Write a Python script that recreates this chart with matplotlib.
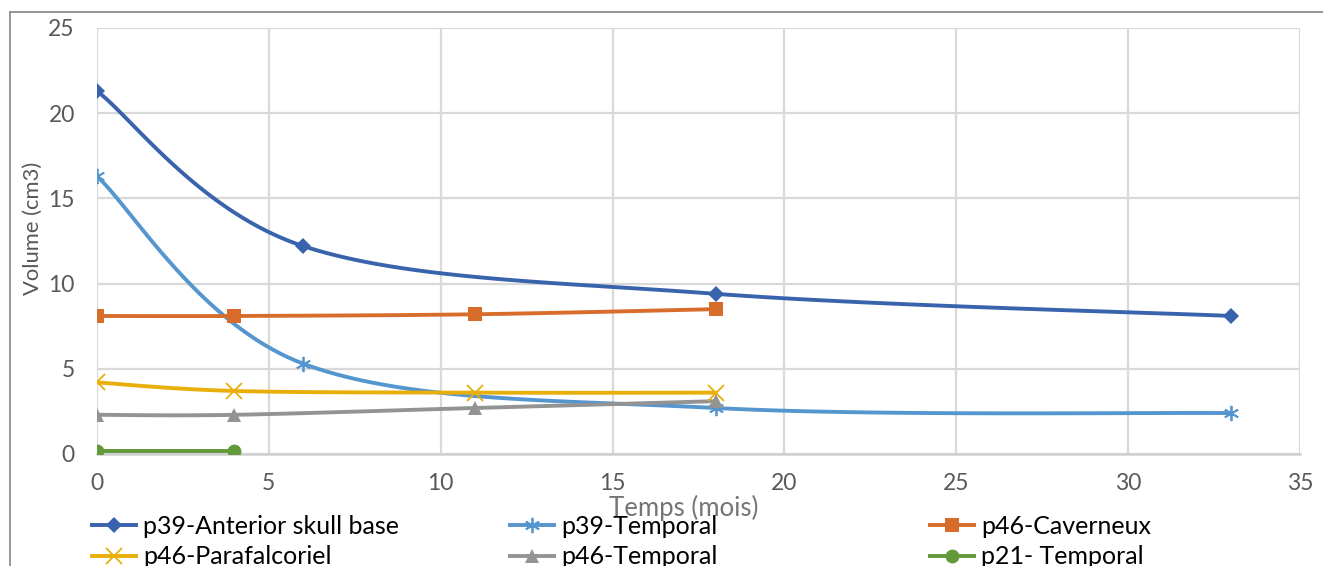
import numpy as np
import matplotlib
matplotlib.use("Agg")
import matplotlib.pyplot as plt
from matplotlib.lines import Line2D

plt.rcParams['font.family'] = ['Lato', 'DejaVu Sans']

# ---- data ----
names = ["p39-Anterior skull base", "p39-Temporal", "p46-Caverneux",
         "p46-Parafalcoriel", "p46-Temporal", "p21- Temporal"]
x_asb = [0, 6, 18, 33]
y_asb = [21.3, 12.2, 9.4, 8.1]
x_t39 = [0, 6, 18, 33]
y_t39 = [16.3, 5.3, 2.7, 2.4]
x_cav = [0, 4, 11, 18]
y_cav = [8.1, 8.1, 8.2, 8.5]
x_par = [0, 4, 11, 18]
y_par = [4.2, 3.7, 3.6, 3.6]
x_t46 = [0, 4, 11, 18]
y_t46 = [2.3, 2.3, 2.7, 3.1]
x_t21 = [0, 4]
y_t21 = [0.2, 0.2]

xs = [x_asb, x_t39, x_cav, x_par, x_t46, x_t21]
ys = [y_asb, y_t39, y_cav, y_par, y_t46, y_t21]
colors = ["#3A63AD", "#5696CF", "#D86D2B", "#E8AF0A", "#939393", "#62993B"]
markers = ["D", (6, 2, 0), "s", "x", "^", "o"]
msizes = [8, 11, 10, 11, 10, 10]

x_ticks = [0, 5, 10, 15, 20, 25, 30, 35]
y_ticks = [0, 5, 10, 15, 20, 25]


def smooth(x, y, n=40):
    p = np.column_stack([x, y]).astype(float)
    if len(p) < 3:
        return p[:, 0], p[:, 1]
    ext = np.vstack([p[0], p, p[-1]])
    out = []
    t = np.linspace(0, 1, n)[:, None]
    for i in range(len(p) - 1):
        p0, p1, p2, p3 = ext[i], ext[i + 1], ext[i + 2], ext[i + 3]
        c1 = p1 + (p2 - p0) / 6
        c2 = p2 - (p3 - p1) / 6
        b = ((1 - t) ** 3) * p1 + 3 * t * (1 - t) ** 2 * c1 + 3 * t ** 2 * (1 - t) * c2 + t ** 3 * p2
        out.append(b if i == 0 else b[1:])
    out = np.vstack(out)
    return out[:, 0], out[:, 1]


W, H = 1323, 566
fig = plt.figure(figsize=(W / 100, H / 100), dpi=100)
ax = fig.add_axes([97 / W, 1 - 454 / H, (1300 - 97) / W, (454 - 28) / H])

handles = []
for x, y, c, m, ms, nm in zip(xs, ys, colors, markers, msizes, names):
    sx, sy = smooth(x, y)
    ax.plot(sx, sy, color=c, lw=2.8, solid_capstyle='round', zorder=3)
    mew = 1.3 if (m == "x" or isinstance(m, tuple)) else 0
    ax.plot(x, y, linestyle='none', marker=m, color=c, ms=ms, mew=mew, zorder=4)
    handles.append(Line2D([0], [0], color=c, lw=2.8, marker=m, ms=ms, mew=mew))

ax.set_xlim(0, 35)
ax.set_ylim(0, 25)
ax.set_xticks(x_ticks)
ax.set_yticks(y_ticks)
ax.grid(True, color="#D9D9D9", lw=1.6)
ax.set_axisbelow(True)
for s in ["top", "right", "left"]:
    ax.spines[s].set_visible(False)
ax.spines["bottom"].set_color("#D0D0D0")
ax.spines["bottom"].set_linewidth(1.8)
ax.tick_params(length=0, labelsize=16.5, colors="#595959")
ax.tick_params(axis='x', pad=14)
ax.tick_params(axis='y', pad=16)

ax.set_ylabel("Volume (cm3)", fontsize=15.8, color="#595959")
ax.yaxis.set_label_coords((43 - 97) / 1203, (454 - 228) / 426)
fig.text(684 / W, 1 - 508 / H, "Temps (mois)", fontsize=18.5, color="#757575",
         ha="center", va="center")

# outer chart border (cropped)
fig.add_artist(Line2D([10 / W, 1], [1 - 12 / H, 1 - 12 / H], color="#8C8C8C", lw=1.3))
fig.add_artist(Line2D([10 / W, 10 / W], [0, 1 - 12 / H], color="#8C8C8C", lw=1.3))

# legend in three columns
cols = [(0, 3), (1, 4), (2, 5)]
xpos = [92, 510, 930]
for (a, b), xp in zip(cols, xpos):
    fig.legend([handles[a], handles[b]], [names[a], names[b]],
               loc="upper left", bbox_to_anchor=(xp / W, 1 - 515 / H),
               frameon=False, fontsize=18, handlelength=1.75, handletextpad=0.3,
               labelspacing=0.3, borderaxespad=0, borderpad=0, labelcolor="#000000")

fig.savefig("out.png", dpi=100)
